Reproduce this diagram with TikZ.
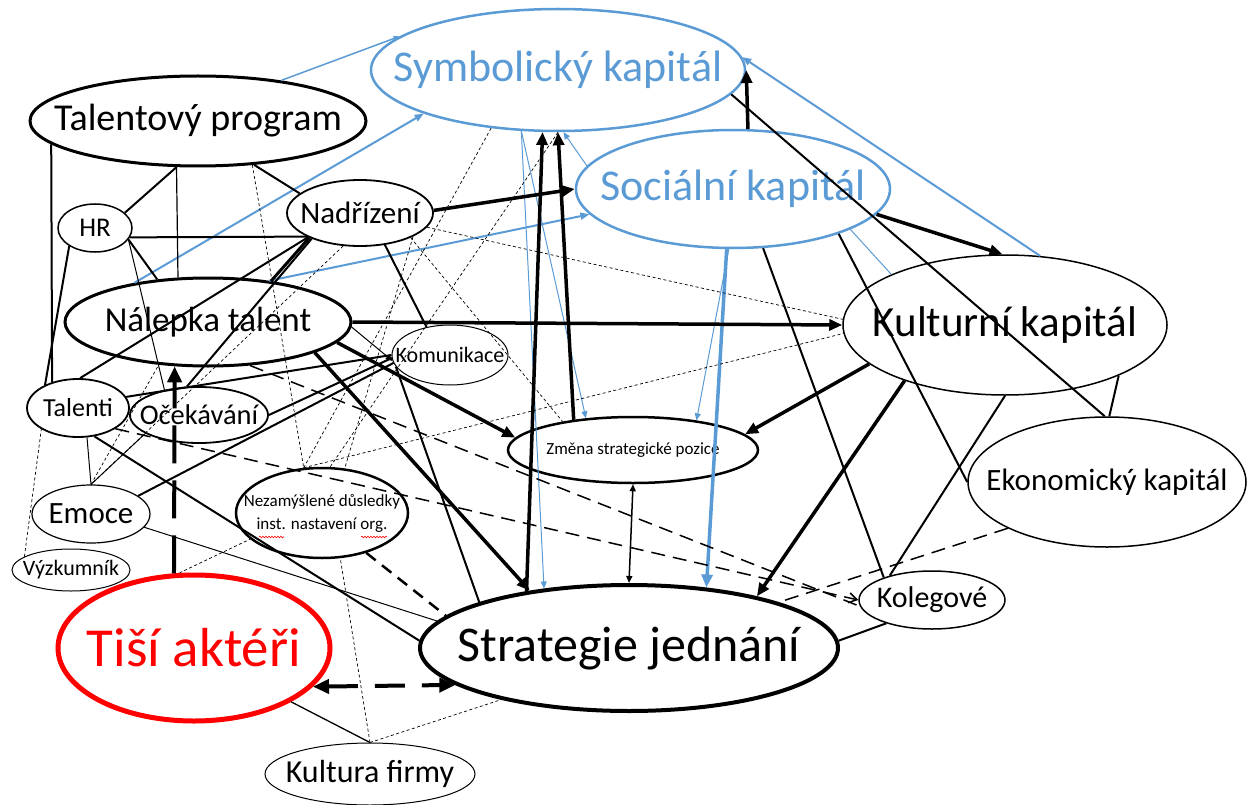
\documentclass[tikz,border=0pt]{standalone}
\usepackage{fontspec}
\setmainfont{Carlito}
\usetikzlibrary{arrows.meta,shapes.geometric,decorations.pathmorphing}
\definecolor{cblue}{HTML}{5B9BD5}
\definecolor{cred}{HTML}{FF0000}
\newcommand{\fsz}[1]{\fontsize{#1}{#1}\selectfont}
\begin{document}
\begin{tikzpicture}[x=1pt,y=-1pt,
  ell/.style={ellipse, draw, inner sep=0pt, line width=#1},
  ell/.default=1.5pt,
  thk/.style={line width=3.5pt, -{Triangle[length=13pt,width=11pt]}},
  bthk/.style={cblue, line width=3.5pt, -{Triangle[length=13pt,width=11pt]}},
  bmed/.style={cblue, line width=2pt, -{Triangle[length=9pt,width=7pt]}},
  bthin/.style={cblue, line width=1pt, -{Triangle[length=7pt,width=6pt]}},
  bline/.style={cblue, line width=1pt},
  med/.style={line width=2pt},
  thn/.style={line width=1pt},
  dsh/.style={line width=1.5pt, dash pattern=on 14pt off 8pt},
  dotl/.style={line width=0.7pt, dash pattern=on 3pt off 2.5pt},
  bigdash/.style={line width=4pt, dash pattern=on 38pt off 17pt},
  wavy/.style={cred, line width=0.6pt, decorate, decoration={snake, amplitude=0.8pt, segment length=3pt}}
]
\useasboundingbox (0,0) rectangle (1249,805);

% ---------- nodes ----------
\node[ell=2.5pt, draw=cblue, minimum width=374pt, minimum height=122pt] (sym) at (558,70) {\makebox[0pt]{\fsz{44}\color{cblue}Symbolický kapitál}};
\node[ell=2.5pt, draw=cblue, minimum width=314pt, minimum height=118pt] (soc) at (733,189) {\makebox[0pt]{\fsz{44}\color{cblue}Sociální kapitál}};
\node[ell=3pt, minimum width=336pt, minimum height=90pt] (tp) at (198,121) {\makebox[0pt]{\fsz{38}Talentový program}};
\node[ell=1.5pt, minimum width=74pt, minimum height=48pt] (hr) at (95,228) {\makebox[0pt]{\fsz{27}HR}};
\node[ell=1.8pt, minimum width=146pt, minimum height=66pt] (nad) at (360,213) {\makebox[0pt]{\fsz{31}Nadřízení}};
\node[ell=3pt, minimum width=286pt, minimum height=88pt] (nal) at (208,322) {\makebox[0pt]{\fsz{35}Nálepka talent}};
\node[ell=1.8pt, minimum width=102pt, minimum height=58pt] (tal) at (78,408) {\makebox[0pt]{\fsz{26}Talenti}};
\node[ell=1.8pt, minimum width=138pt, minimum height=56pt] (oce) at (199,415) {\makebox[0pt]{\fsz{28.5}Očekávání}};
\node[ell=1.2pt, minimum width=118pt, minimum height=58pt] (emo) at (91,514) {\makebox[0pt]{\fsz{31}Emoce}};
\node[ell=1pt, minimum width=118pt, minimum height=42pt] (vyz) at (71,570) {\makebox[0pt]{\fsz{22}Výzkumník}};
\node[ell=2.5pt, minimum width=172pt, minimum height=90pt] (nez) at (322,513) {\makebox[0pt]{\fontsize{17}{23}\selectfont\begin{tabular}{@{}c@{}}Nezamýšlené důsledky\\inst. nastavení org.\end{tabular}}};
\node[ell=1pt, minimum width=116pt, minimum height=60pt] (kom) at (450,355) {\makebox[0pt]{\fsz{22}Komunikace}};
\node[ell=2.5pt, minimum width=250pt, minimum height=66pt] (zm) at (633,450) {\makebox[0pt]{\fsz{17}Změna strategické pozice}};
\node[ell=1.5pt, minimum width=324pt, minimum height=140pt] (kul) at (1005,325) {\makebox[0pt]{\fsz{43}Kulturní kapitál}};
\node[ell=1.5pt, minimum width=278pt, minimum height=130pt] (eko) at (1107,482) {\makebox[0pt]{\fsz{31}Ekonomický kapitál}};
\node[ell=1.5pt, minimum width=146pt, minimum height=58pt] (kol) at (932,600) {\makebox[0pt]{\fsz{30}Kolegové}};
\node[ell=4pt, minimum width=418pt, minimum height=126pt] (sj) at (629,648) {\makebox[0pt]{\raisebox{7pt}{\fsz{50}Strategie jednání}}};
\node[ell=5pt, draw=cred, minimum width=272pt, minimum height=146pt] (ti) at (194,648) {\makebox[0pt]{\fsz{55}\color{cred}Tiší aktéři}};
\node[ell=1pt, minimum width=210pt, minimum height=62pt] (kf) at (370,774) {\makebox[0pt]{\fsz{32}Kultura firmy}};

% spell-check squiggles
\draw[wavy] (259,537) -- (284,537);
\draw[wavy] (361,537) -- (387,537);

% ---------- blue connectors ----------
\draw[cblue, line width=1.5pt, -{Triangle[length=6pt,width=5pt]}] (tp.26.6) -- (sym.168);
\draw[bmed] (nal.152) -- (sym.198);
\draw[bmed] (nal.34) -- (soc.190);
\draw[bmed] (kul.63) -- (sym.4);
\draw[bthin] (sym.239) -- (sj.145);
\draw[bthin] (sym.239) -- (zm.146);
\draw[bthk] (soc.264) -- (sj.38);
\draw[bthin] (soc.266) -- (zm.25);
\draw[bline] (soc.341) -- (kul.156);
\draw[bthin] (soc.171) -- (sym.275);

% ---------- thick black arrows ----------
\draw[thk] (nad.2) -- (soc.180);
\draw[thk] (sj.151) -- (sym.256);
\draw[thk] (zm.153) -- (sym.270);
\draw[thk] (soc.76) -- (sym.east);
\draw[thk] (soc.350) -- (kul.92);
\draw[thk] (kul.196) -- (zm.8);
\draw[thk] (kul.209) -- (sj.22);
\draw[thk] (nal.east) -- (kul.west);
\draw[thk] (nal.351) -- (zm.174);
\draw[thk] (nal.344) -- (sj.150);

% ---------- solid lines ----------
\draw[med] (tp.189) -- (tal.135);
\draw[med] (tp.245) -- (hr.27);
\draw[line width=1.2pt] (tp.245) -- (nal.124);
\draw[med] (tp.322) -- (nad.162);
\draw[med] (hr.345) -- (nad.204);
\draw[med] (hr.215) -- (tal.145);
\draw[med] (hr.341) -- (nal.140);
\draw[thn] (hr.341) -- (oce.144);
\draw[med] (nad.205) -- (tal.86);
\draw[line width=3pt] (nad.206) -- (nal.33);
\draw[med] (nad.208) -- (oce.113);
\draw[med] (nad.308) -- (kom.130);
\draw[thn, -{Triangle[length=7pt,width=6pt]}] (nal.358) -- (kom.186);
\draw[med] (kom.192) -- (sj.163);
\draw[med] (tal.13) -- (kom.180);
\draw[med] (oce.east) -- (kom.183);
\draw[med] (emo.21) -- (kom.188);
\draw[thn] (tal.287) -- (emo.90);
\draw[thn] (oce.199) -- (emo.90);
\draw[med] (tal.300) -- (sj.178);
\draw[thn] (emo.346) -- (sj.172);
\draw[med] (sj.2) -- (kol.207);
\draw[med] (kul.270) -- (kol.150);
\draw[med] (soc.297) -- (kol.155);
\draw[med] (soc.337) -- (eko.west);
\draw[med] (sym.352) -- (eko.92);
\draw[med] (kul.336) -- (eko.88);
\draw[thn, line width=1.3pt] (ti.331) -- (kf.90);
\draw[line width=1.5pt, {Triangle[length=7pt,width=6pt]}-{Triangle[length=7pt,width=6pt]}] (zm.270) -- (sj.90);

% ---------- thick dashed ----------
\draw[bigdash, -{Triangle[length=16pt,width=14pt]}] (ti.105) -- (nal.233);
\draw[line width=4pt, dash pattern=on 30pt off 17pt, {Triangle[length=16pt,width=14pt]}-{Triangle[length=16pt,width=14pt]}] (ti.342) -- (sj.192);
\draw[line width=2.5pt, dash pattern=on 12pt off 8pt] (nez.318) -- (sj.170);

% ---------- dashed ----------
\draw[dsh, -{Straight Barb[length=8pt,width=10pt]}] (tal.331) -- (kol.180);
\draw[dsh] (nal.314) -- (kol.185);
\draw[dsh] (eko.205) -- (sj.17);

% ---------- dotted ----------
\draw[dotl] (tp.321) -- (nez.112);
\draw[dotl] (sym.221) -- (nez.112);
\draw[dotl] (sym.270) -- (nez.80);
\draw[dotl] (nad.243) -- (emo.90);
\draw[dotl] (nad.336) -- (nez.63);
\draw[dotl] (nad.334) -- (zm.158);
\draw[dotl] (nad.348) -- (kul.178);
\draw[dotl] (nez.112) -- (kul.183);
\draw[dotl] (vyz.164) -- (tal.210);
\draw[dotl] (emo.90) -- (nal.221);
\draw[dotl] (ti.101) -- (nez.200);
\draw[dotl] (kf.90) -- (nez.292);
\draw[dotl] (kf.90) -- (sj.202);
\end{tikzpicture}
\end{document}
